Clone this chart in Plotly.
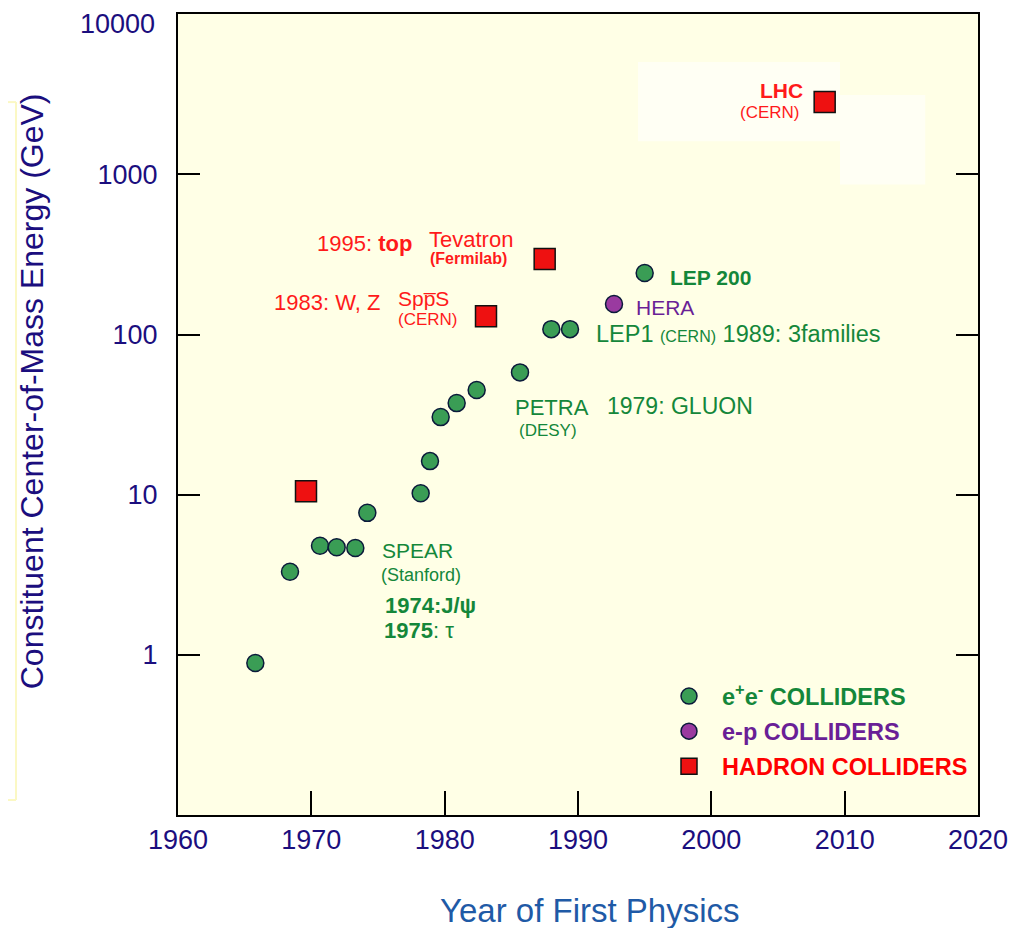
import plotly.graph_objects as go

# ---- data ----
ee_years = [1965.8, 1968.4, 1970.65, 1971.9, 1973.3, 1974.2, 1978.2, 1978.9, 1979.7,
            1980.9, 1982.4, 1985.65, 1988.0, 1989.4, 1995.0]
ee_energy = [0.89, 3.3, 4.8, 4.7, 4.65, 7.7, 10.2, 16.2, 30.5, 37.3, 45, 58, 108, 108, 242]

ep_years = [1992.7]
ep_energy = [155]

had_years = [1969.6, 1983.1, 1987.5, 2008.5]
had_energy = [10.5, 130, 296, 2825]

x_ticks = [1960, 1970, 1980, 1990, 2000, 2010, 2020]
y_ticks = [1, 10, 100, 1000, 10000]
y_tick_text = ["1", "10", "100", "1000", ""]   # top label drawn separately (sits below its line)
top_tick_label = "10000"

GREEN_TXT = "#14873a"
GREEN_FILL = "#3a9d55"
PURPLE_TXT = "#6a1f96"
PURPLE_FILL = "#9a3aa0"
RED = "#ff1a1a"
NAVY = "#1b0e7e"
FONT = "Liberation Sans, Arial, sans-serif"

fig = go.Figure()

fig.add_trace(go.Scatter(
    x=ee_years, y=ee_energy, mode="markers",
    name="<b><span style='color:%s'>e<sup>+</sup>e<sup>-</sup> COLLIDERS</span></b>" % GREEN_TXT,
    legendgroup="a",
    marker=dict(symbol="circle", size=17, color=GREEN_FILL, line=dict(color="#0b1a3a", width=1.5)),
))
fig.add_trace(go.Scatter(
    x=ep_years, y=ep_energy, mode="markers",
    name="<b><span style='color:%s'>e-p COLLIDERS</span></b>" % PURPLE_TXT,
    legendgroup="b",
    marker=dict(symbol="circle", size=17, color=PURPLE_FILL, line=dict(color="#0b1a3a", width=1.5)),
))
fig.add_trace(go.Scatter(
    x=had_years, y=had_energy, mode="markers",
    name="<b><span style='color:#ff0000'>HADRON COLLIDERS</span></b>",
    legendgroup="c",
    marker=dict(symbol="square", size=21, color="#ee1111", line=dict(color="#111111", width=1.5)),
))

# ---- text labels: (text, year, log10(E), size, color, xanchor) ----
labels = [
    ("<b>LHC</b>", 2007.0, 3.526, 21, RED, "right"),
    ("(CERN)", 2006.8, 3.388, 17, RED, "right"),
    ("1995: <b>top</b>", 1970.28, 2.570, 22, RED, "left"),
    ("Tevatron", 1978.68, 2.595, 22, RED, "left"),
    ("<b>(Fermilab)</b>", 1978.75, 2.477, 16, RED, "left"),
    ("1983: W, Z", 1967.05, 2.202, 22, RED, "left"),
    ("Spp\u0305S", 1976.35, 2.227, 21, RED, "left"),
    ("(CERN)", 1976.35, 2.096, 17, RED, "left"),
    ("<b>LEP 200</b>", 1996.75, 2.358, 21, GREEN_TXT, "left"),
    ("HERA", 1994.2, 2.171, 21, PURPLE_TXT, "left"),
    ("LEP1 <span style='font-size:16px'>(CERN)</span> 1989: 3families", 1991.2, 2.002, 23.5, GREEN_TXT, "left"),
    ("PETRA", 1985.13, 1.547, 22, GREEN_TXT, "left"),
    ("(DESY)", 1985.43, 1.403, 17, GREEN_TXT, "left"),
    ("1979: GLUON", 1992.03, 1.553, 23, GREEN_TXT, "left"),
    ("SPEAR", 1975.15, 0.654, 21, GREEN_TXT, "left"),
    ("(Stanford)", 1975.08, 0.498, 18, GREEN_TXT, "left"),
    ("<b>1974:J/\u03c8</b>", 1975.38, 0.311, 22, GREEN_TXT, "left"),
    ("<b>1975</b>: \u03c4", 1975.3, 0.155, 22, GREEN_TXT, "left"),
]
for t, x, y, s, c, xa in labels:
    fig.add_annotation(x=x, y=y, xref="x", yref="y", text=t, showarrow=False,
                       xanchor=xa, yanchor="middle",
                       font=dict(size=s, color=c, family=FONT))

# top y tick label (drawn slightly below the top edge, as in the original)
fig.add_annotation(x=-0.02625, y=0.9875, xref="paper", yref="paper", text=top_tick_label,
                   showarrow=False, xanchor="right", yanchor="middle",
                   font=dict(size=27, color=NAVY, family=FONT))

# axis titles
fig.add_annotation(x=-0.1825, y=0.529, xref="paper", yref="paper", textangle=-90,
                   xanchor="center", yanchor="middle",
                   text="Constituent Center-of-Mass Energy (GeV)", showarrow=False,
                   font=dict(size=32, color=NAVY, family=FONT))
fig.add_annotation(x=0.515, y=-0.119, xref="paper", yref="paper",
                   xanchor="center", yanchor="middle",
                   text="Year of First Physics", showarrow=False,
                   font=dict(size=33, color="#1f5aa6", family=FONT))

# whitish patches near LHC and faint bracket at the left (image artifacts)
fig.add_shape(type="rect", xref="paper", yref="paper", x0=0.575, x1=0.8275, y0=0.841, y1=0.940,
              fillcolor="#fffff4", line=dict(width=0), layer="below")
fig.add_shape(type="rect", xref="paper", yref="paper", x0=0.8275, x1=0.934, y0=0.787, y1=0.899,
              fillcolor="#fffff4", line=dict(width=0), layer="below")
for (x0, y0, x1, y1) in [(-0.2025, 0.0187, -0.2025, 0.890), (-0.2225, 0.890, -0.2025, 0.890),
                         (-0.2225, 0.0187, -0.2025, 0.0187)]:
    fig.add_shape(type="line", xref="paper", yref="paper", x0=x0, y0=y0, x1=x1, y1=y1,
                  line=dict(color="#fbf8c4", width=2))

fig.update_layout(
    width=1019, height=920,
    margin=dict(l=170, r=49, t=4, b=113),
    paper_bgcolor="white",
    plot_bgcolor="#ffffe6",
    font=dict(family=FONT, color=NAVY),
    showlegend=True,
    legend=dict(x=0.5975, y=0.1756, xanchor="left", yanchor="top",
                bgcolor="rgba(0,0,0,0)", font=dict(size=23.5, family=FONT),
                tracegroupgap=1.5, itemsizing="trace", itemwidth=56),
)
fig.update_xaxes(range=[1960, 2020], tickvals=x_ticks, ticks="inside", ticklen=24, tickwidth=2,
                 tickcolor="black", showline=True, linecolor="black", linewidth=2, mirror=True,
                 showgrid=False, zeroline=False, tickfont=dict(size=27, color=NAVY, family=FONT))
fig.update_yaxes(type="log", range=[-1, 4.001], tickvals=y_ticks, ticktext=y_tick_text,
                 ticks="inside", ticklen=22, tickwidth=2, tickcolor="black",
                 showline=True, linecolor="black", linewidth=2, mirror="ticks",
                 ticklabelstandoff=13,
                 showgrid=False, zeroline=False, tickfont=dict(size=27, color=NAVY, family=FONT))

fig.write_html("out.html")
